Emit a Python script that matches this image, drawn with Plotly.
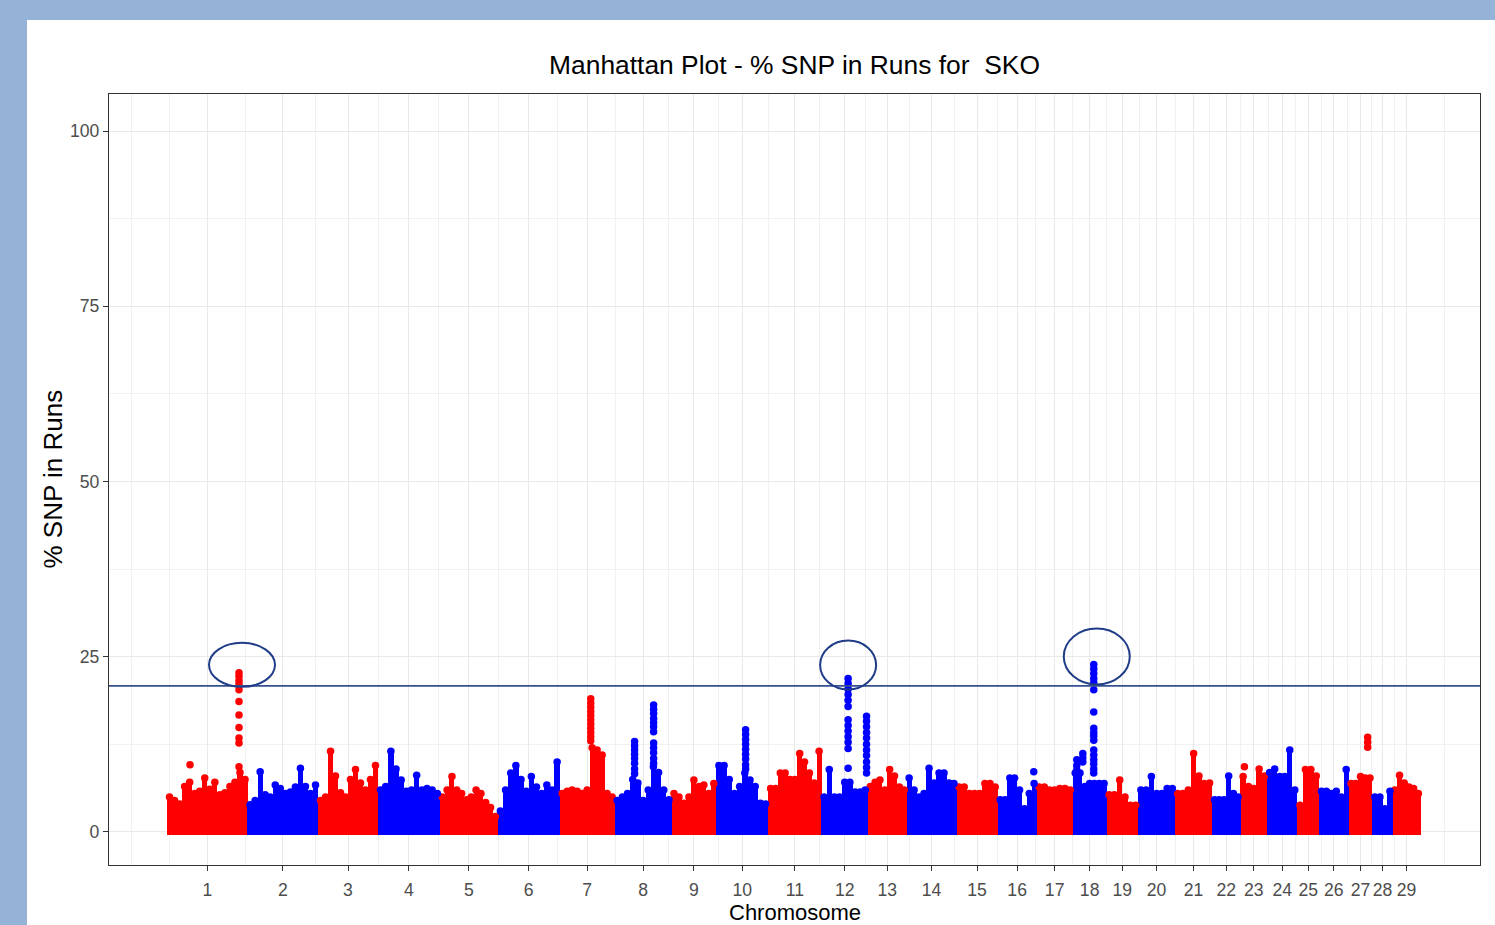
import numpy as np
import plotly.graph_objects as go

# ---------------- data ----------------
chromosomes = [str(i) for i in range(1, 30)]
chrom_length_mb = [160, 140, 119, 123, 115, 123, 109, 113, 89, 103, 106, 92, 77, 99,
                   82, 77, 72, 67, 63, 73, 74, 56, 53, 60, 43, 59, 47, 40, 56]

# upper envelope of % SNP in runs along each chromosome (consecutive windows)
pct_chr1 = [5.0, 4.5, 4.0, 6.5, 7.1, 5.5, 5.8, 7.7, 6.1, 7.1, 5.3, 5.6, 6.5, 7.1, 8.5, 7.5]
pct_chr2 = [3.9, 4.5, 8.6, 5.3, 5.0, 6.7, 6.2, 5.5, 5.7, 6.4, 9.1, 6.5, 5.5, 6.7]
pct_chr3 = [4.5, 5.0, 11.5, 8.0, 5.6, 5.0, 7.5, 8.9, 7.0, 6.0, 7.5, 9.5]
pct_chr4 = [6.0, 6.5, 11.5, 9.0, 7.4, 5.8, 6.0, 8.1, 6.0, 6.2, 6.0, 5.5]
pct_chr5 = [5.0, 6.0, 7.9, 6.0, 5.5, 4.6, 5.0, 6.0, 5.5, 4.2, 3.5, 2.2]
pct_chr6 = [3.0, 6.0, 8.4, 9.5, 7.5, 5.8, 7.9, 6.4, 5.5, 6.7, 6.0, 10.0]
pct_chr7 = [5.5, 5.8, 6.0, 5.8, 5.5, 6.0, 12.0, 11.7, 11.0, 5.5, 5.0]
pct_chr8 = [4.5, 5.0, 5.5, 7.5, 7.0, 4.5, 6.0, 9.3, 8.5, 6.0, 4.6]
pct_chr9 = [5.5, 5.0, 4.1, 5.0, 7.4, 6.5, 6.7, 5.5, 6.9]
pct_chr10 = [9.5, 9.5, 7.5, 5.5, 6.5, 8.4, 7.4, 6.5, 4.1, 4.0]
pct_chr11 = [6.2, 6.2, 8.4, 8.4, 7.5, 7.5, 11.2, 10.0, 8.4, 7.0, 11.5]
pct_chr12 = [5.0, 8.9, 5.0, 5.0, 7.1, 7.1, 5.7, 5.7, 6.0]
pct_chr13 = [6.5, 7.1, 7.4, 6.0, 8.9, 8.0, 6.4, 6.0]
pct_chr14 = [7.7, 6.0, 5.0, 5.5, 9.1, 7.0, 8.4, 8.4, 7.0, 6.9]
pct_chr15 = [6.4, 6.4, 5.5, 5.5, 5.5, 6.9, 6.9, 6.4]
pct_chr16 = [4.6, 4.6, 7.7, 7.7, 6.0, 3.3, 5.5, 6.9]
pct_chr17 = [6.4, 6.4, 6.0, 6.0, 6.2, 6.2, 6.0]
pct_chr18 = [8.4, 8.4, 6.5, 6.9, 6.9, 6.9, 6.9]
pct_chr19 = [5.3, 5.3, 7.4, 5.0, 3.8, 3.8]
pct_chr20 = [6.0, 6.0, 7.9, 5.5, 5.5, 6.2, 6.2]
pct_chr21 = [5.5, 5.5, 6.0, 11.2, 8.0, 6.9, 7.0]
pct_chr22 = [4.6, 4.6, 4.6, 8.0, 5.5, 5.0]
pct_chr23 = [7.9, 6.5, 6.2, 9.0, 8.0]
pct_chr24 = [8.5, 9.0, 7.9, 7.9, 11.7, 6.0]
pct_chr25 = [3.8, 8.9, 8.9, 8.0]
pct_chr26 = [5.8, 5.8, 5.5, 5.8, 5.0, 8.9]
pct_chr27 = [6.9, 6.9, 7.9, 7.7, 7.7]
pct_chr28 = [5.0, 5.0, 3.3, 5.8]
pct_chr29 = [6.0, 8.1, 7.0, 6.4, 6.2, 5.5]

pct_by_chrom = [pct_chr1, pct_chr2, pct_chr3, pct_chr4, pct_chr5, pct_chr6, pct_chr7,
                pct_chr8, pct_chr9, pct_chr10, pct_chr11, pct_chr12, pct_chr13, pct_chr14,
                pct_chr15, pct_chr16, pct_chr17, pct_chr18, pct_chr19, pct_chr20, pct_chr21,
                pct_chr22, pct_chr23, pct_chr24, pct_chr25, pct_chr26, pct_chr27, pct_chr28,
                pct_chr29]

# isolated SNPs standing above the bulk: chromosome, position (Mb), values
spike_chrom = [1, 1, 7, 8, 8, 10, 12, 12, 16, 18, 18, 18, 23, 27]
spike_pos_mb = [143.0, 45.7, 61.6, 39.7, 77.5, 58.2, 52.8, 89.4, 71.5, 41.7, 7.9, 19.9, 7.9, 37.7]
spike_pct = [
    [22.7, 22.2, 21.6, 21.1, 20.3, 18.6, 16.7, 14.9, 13.4, 12.7, 9.3],
    [9.6],
    [19.0, 18.4, 17.8, 17.2, 16.6, 16.0, 15.4, 14.8, 14.2, 13.6, 13.0],
    [12.9, 12.3, 11.7, 11.1, 10.5, 9.8, 9.0, 8.3],
    [18.1, 17.5, 16.9, 16.2, 15.6, 15.0, 14.3, 12.7, 12.0, 11.3, 10.5, 9.8],
    [14.6, 13.9, 13.2, 12.5, 11.8, 11.1, 10.4, 9.6, 9.0],
    [21.9, 21.2, 20.4, 19.6, 18.8, 17.9, 16.0, 15.2, 14.4, 13.6, 12.8, 11.9, 9.1],
    [16.5, 15.8, 15.0, 14.2, 13.4, 12.5, 11.7, 10.9, 10.0, 9.2, 8.4],
    [8.6],
    [23.9, 23.3, 22.6, 21.9, 21.3, 20.3, 17.1, 14.8, 14.2, 13.7, 13.1, 11.7, 11.0, 10.3, 9.7, 9.0, 8.4],
    [10.3, 9.5, 8.8],
    [11.2, 10.6, 10.0],
    [9.3],
    [13.5, 12.8, 12.1],
]

threshold_pct = 20.85
highlight_chrom = [1, 12, 18]

title_text = "Manhattan Plot - % SNP in Runs for\u00a0 SKO"
x_title = "Chromosome"
y_title = "% SNP in Runs"
y_ticks = [0, 25, 50, 75, 100]

# ---------------- styling ----------------
RED = "#ff0000"
BLUE = "#0000ff"
chrom_colors = [RED if i % 2 == 0 else BLUE for i in range(29)]
FONT = "Liberation Sans, Arial, Helvetica, sans-serif"
MSIZE = 7.5

offsets = np.concatenate([[0.0], np.cumsum(chrom_length_mb)[:-1]])
tick_pos = offsets + np.array(chrom_length_mb) / 2.0

fig = go.Figure()

# bulk of SNPs (solid mass) per colour
for col in (RED, BLUE):
    bx, by, bw = [], [], []
    mx, my = [], []
    for ci in range(29):
        if chrom_colors[ci] != col:
            continue
        vals = pct_by_chrom[ci]
        n = len(vals)
        step = chrom_length_mb[ci] / n
        for j, v in enumerate(vals):
            xpos = offsets[ci] + (j + 0.5) * step
            bx.append(xpos)
            by.append(v + 0.45)
            bw.append(step * 1.03)
            mx.append(xpos)
            my.append(v)
    fig.add_trace(go.Bar(x=bx, y=by, width=bw, base=-0.45,
                         marker=dict(color=col, line=dict(width=0)),
                         hoverinfo="skip"))
    fig.add_trace(go.Scatter(x=mx, y=my, mode="markers",
                             marker=dict(color=col, size=MSIZE, line=dict(width=0)),
                             hoverinfo="skip"))

# isolated high SNPs
for col in (RED, BLUE):
    sx, sy = [], []
    for c, p, vals in zip(spike_chrom, spike_pos_mb, spike_pct):
        if chrom_colors[c - 1] != col:
            continue
        for v in vals:
            sx.append(offsets[c - 1] + p)
            sy.append(v)
    fig.add_trace(go.Scatter(x=sx, y=sy, mode="markers",
                             marker=dict(color=col, size=MSIZE, line=dict(width=0)),
                             hoverinfo="skip"))

# threshold line
fig.add_hline(y=threshold_pct, line=dict(color="#34508f", width=1.6))

# ellipses around the highlighted peaks (anchored to the highest spike)
ellipse_px = {1: (-30, 36, -14, 30), 12: (-28, 28, -11, 38), 18: (-30, 36, -20, 36)}
for c in highlight_chrom:
    best = None
    for cc, p, vals in zip(spike_chrom, spike_pos_mb, spike_pct):
        if cc == c and (best is None or max(vals) > best[1]):
            best = (offsets[c - 1] + p, max(vals))
    x0, x1, y0, y1 = ellipse_px[c]
    fig.add_shape(type="circle", xref="x", yref="y",
                  xsizemode="pixel", ysizemode="pixel",
                  xanchor=best[0], yanchor=best[1],
                  x0=x0, x1=x1, y0=y0, y1=y1,
                  line=dict(color="#1f3c88", width=2), fillcolor="rgba(0,0,0,0)")

# white slide area over the blue background
fig.add_shape(type="rect", xref="paper", yref="paper", layer="below",
              x0=(27 - 109) / 1371, x1=1.05, y0=-0.12, y1=(865 - 20) / 771,
              fillcolor="white", line=dict(width=0))

# ggplot-like minor breaks
b = list(tick_pos)
bd = b[1] - b[0]
ext = [b[0] - bd] + b + [b[-1] + bd]
x_minor = [ext[0]] + [(ext[i] + ext[i + 1]) / 2 for i in range(len(ext) - 1)] + [ext[-1]]
y_minor = [12.5, 37.5, 62.5, 87.5]

axis_common = dict(
    showline=True, mirror=True, linecolor="#333333", linewidth=1.3,
    ticks="outside", ticklen=5, tickwidth=1.2, tickcolor="#333333",
    showgrid=True, gridcolor="#e9e9e9", gridwidth=1.2, zeroline=False,
    tickfont=dict(family=FONT, size=17.6, color="#4d4d4d"),
)

fig.update_layout(
    width=1495, height=925,
    margin=dict(l=109, r=15, t=94, b=60),
    paper_bgcolor="#95B3D7", plot_bgcolor="white",
    showlegend=False, barmode="overlay", bargap=0,
    font=dict(family=FONT),
    title=dict(text=title_text, x=0.5, xref="paper", xanchor="center",
               y=1 - 65 / 925, yref="container", yanchor="middle",
               font=dict(family=FONT, size=26.4, color="black")),
    xaxis=dict(range=[-115.2, 2607.8], tickmode="array", tickvals=list(tick_pos),
               ticktext=chromosomes, ticklabelstandoff=4,
               minor=dict(tickvals=x_minor, showgrid=True, gridcolor="#f1f1f1",
                          gridwidth=0.9, ticks=""),
               **axis_common),
    yaxis=dict(range=[-4.71, 105.28], tickmode="array", tickvals=y_ticks,
               ticktext=[str(v) for v in y_ticks],
               minor=dict(tickvals=y_minor, showgrid=True, gridcolor="#f1f1f1",
                          gridwidth=0.9, ticks=""),
               **axis_common),
    annotations=[
        dict(text=x_title, xref="paper", yref="paper", x=0.5, y=(865 - 912) / 771,
             xanchor="center", yanchor="middle", showarrow=False,
             font=dict(family=FONT, size=22, color="black")),
        dict(text=y_title, xref="paper", yref="paper", x=(52 - 109) / 1371, y=0.5,
             xanchor="center", yanchor="middle", textangle=-90, showarrow=False,
             font=dict(family=FONT, size=26, color="black")),
    ],
)

fig.write_html(
    "out.html",
    config={"displayModeBar": False},
    post_script="document.body.style.margin='0px';document.body.style.padding='0px';"
                "document.body.style.overflow='hidden';",
)
